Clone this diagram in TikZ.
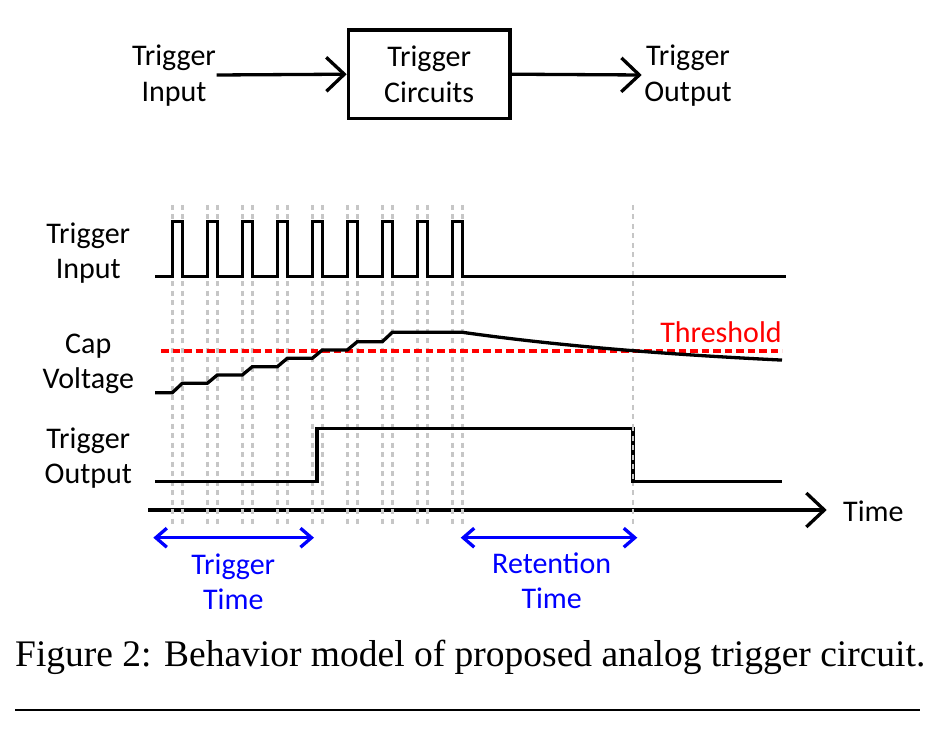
\documentclass[tikz,border=0pt]{standalone}
\usepackage{fontspec}
\setmainfont{Carlito}
\newfontfamily\capfont{Liberation Serif}
\usetikzlibrary{arrows.meta}
\begin{document}
\begin{tikzpicture}[x=1pt,y=-1pt,
  lbl/.style={font=\fontsize{30}{36}\selectfont, inner sep=0pt, anchor=base},
  bluelbl/.style={lbl, text=blue},
  sig/.style={line width=3.3pt, line join=miter},
  guide/.style={line width=2.8pt, gray!45, dash pattern=on 5pt off 4.5pt},
  bigarr/.style={line width=3.3pt, -{Straight Barb[length=18pt,width=34pt]}},
  bluearr/.style={line width=3.3pt, blue, {Straight Barb[length=11pt,width=19pt]}-{Straight Barb[length=11pt,width=19pt]}},
  blk/.style={draw, line width=3.3pt, minimum width=161.7pt, minimum height=88.3pt, inner sep=0pt, align=center, font=\fontsize{30}{36}\selectfont}]
\useasboundingbox (0,0) rectangle (932,730);

% ---- top block diagram ----
\node[lbl] (tin1) at (174,66) {Trigger};
\node[lbl] (tin2) at (174,102) {Input};
\node[blk] (circ) at (429.2,74.2) {Trigger\\Circuits};
\node[lbl] (tout1) at (688,66) {Trigger};
\node[lbl] (tout2) at (688,102) {Output};
\coordinate (inA) at (216.7,75);
\coordinate (outA) at (641.7,75);
\draw[bigarr] (inA) -- (circ.west);
\draw[bigarr] (circ.east) -- (outA);

% ---- signal labels ----
\node[lbl] (l1) at (88.3,243.5) {Trigger};
\node[lbl] (l2) at (88.3,278.5) {Input};
\node[lbl] (l3) at (88.3,353) {Cap};
\node[lbl] (l4) at (88.3,388) {Voltage};
\node[lbl] (l5) at (88.3,448) {Trigger};
\node[lbl] (l6) at (88.3,483.5) {Output};

% ---- time axis ----
\coordinate (ax0) at (148,510);
\coordinate (ax1) at (826.7,510);
\draw[bigarr] (ax0) -- (ax1);
\node[lbl, anchor=base west] (tlab) at (843,521) {Time};

% ---- guide lines ----
\foreach \k in {0,...,8} {
  \draw[guide] ({172.3+35*\k},205) -- ({172.3+35*\k},524);
  \draw[guide] ({182.3+35*\k},205) -- ({182.3+35*\k},524);
}
\draw[guide] (633,205) -- (633,526);

% ---- threshold ----
\draw[red, line width=3.5pt, dash pattern=on 7.5pt off 4pt] (161,351) -- (782,351);
\node[lbl, text=red] (thr) at (721,342) {Threshold};

% ---- trigger input ----
\draw[sig] (155,276.7)
  \foreach \k in {0,...,8} { -- ({172.3+35*\k},276.7) -- ({172.3+35*\k},221.7) -- ({182.3+35*\k},221.7) -- ({182.3+35*\k},276.7) }
  -- (786,276.7);

% ---- cap voltage ----
\draw[sig] (155,392.7)
  \foreach \k/\a/\b in {0/392.7/383.3, 1/383.3/375, 2/375/366.7, 3/366.7/358.3, 4/358.3/350, 5/350/341.7, 6/341.7/332.3} { -- ({172.3+35*\k},\a) -- ({182.3+35*\k},\b) }
  -- (462.3,332.3) -- plot[domain=0:319.7, samples=60] ({462.3+\x},{374.7-42.4*exp(-\x/300)});

% ---- trigger output ----
\draw[sig] (155,481.7) -- (317,481.7) -- (317,428.5) -- (633,428.5) -- (633,481.7) -- (782,481.7);
\draw[guide] (633,426) -- (633,484);

% ---- blue time spans ----
\coordinate (tt0) at (153.3,537.7);
\coordinate (tt1) at (314,537.7);
\coordinate (rt0) at (460.7,537.7);
\coordinate (rt1) at (637.3,537.7);
\draw[bluearr] (tt0) -- (tt1);
\draw[bluearr] (rt0) -- (rt1);
\node[bluelbl] (bt1) at (233.3,574) {Trigger};
\node[bluelbl] (bt2) at (233.3,609) {Time};
\node[bluelbl] (br1) at (551.7,573.5) {Retention};
\node[bluelbl] (br2) at (551.7,608.5) {Time};

% ---- caption ----
\node[anchor=base west, inner sep=0pt, font=\capfont\fontsize{37.5}{40}\selectfont] (capt) at (15,666.7) {Figure 2: Behavior model of proposed analog trigger circuit.};
\coordinate (r0) at (15,709.5);
\coordinate (r1) at (920,709.5);
\draw[line width=2pt] (r0) -- (r1);
\end{tikzpicture}
\end{document}
